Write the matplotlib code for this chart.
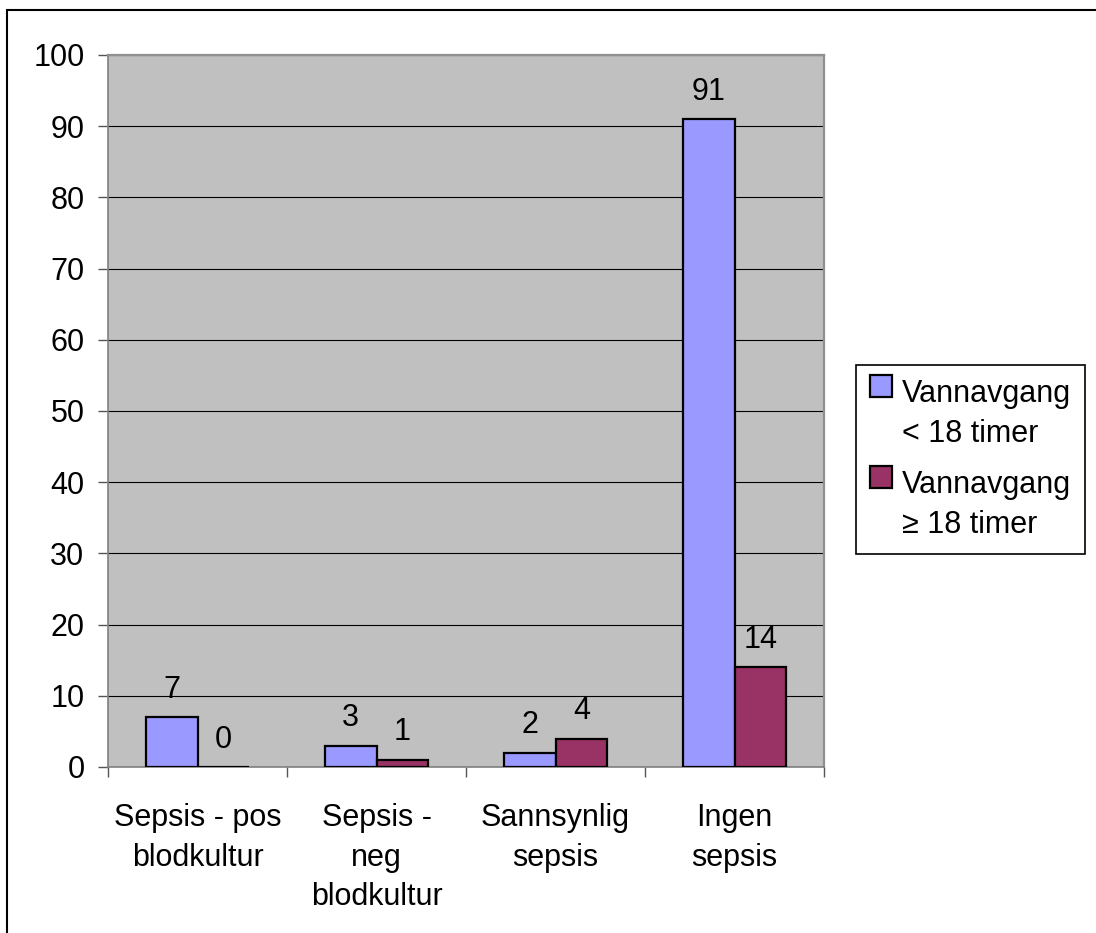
import numpy as np
import matplotlib.pyplot as plt
from matplotlib.patches import Rectangle
from matplotlib.legend_handler import HandlerPatch

plt.rcParams['font.family'] = ['Liberation Sans', 'DejaVu Sans']

categories = ["Sepsis - pos\nblodkultur", "Sepsis -\nneg\nblodkultur",
              "Sannsynlig\nsepsis", "Ingen\nsepsis"]
under_18 = [7, 3, 2, 91]
over_18 = [0, 1, 4, 14]
series_labels = ["Vannavgang\n< 18 timer", "Vannavgang\n\u2265 18 timer"]
yticks = np.arange(0, 101, 10)
fs = 22

fig = plt.figure(figsize=(10.96, 9.33), dpi=100)
ax = fig.add_axes([108 / 1096, 1 - 767 / 933, (824 - 108) / 1096, (767 - 55) / 933])
ax.set_facecolor("#C0C0C0")

x = np.arange(len(categories))
w = 0.29
b1 = ax.bar(x - w / 2, under_18, w, color="#9999FF", edgecolor="black", linewidth=1.6,
            zorder=3)
b2 = ax.bar(x + w / 2, over_18, w, color="#993366", edgecolor="black", linewidth=1.6,
            zorder=3)
ax.bar_label(b1, padding=9, fontsize=fs)
ax.bar_label(b2, padding=9, fontsize=fs)

ax.set_xlim(-0.5, len(categories) - 0.5)
ax.set_ylim(0, 100)
ax.set_yticks(yticks)
ax.tick_params(axis="y", labelsize=fs, length=7, width=1, color="#555555", pad=10)
ax.yaxis.grid(True, color="black", linewidth=0.8)
ax.set_axisbelow(True)

# category labels at the centres, tick marks at the boundaries
ax.set_xticks(np.arange(len(categories) + 1) - 0.5)
ax.set_xticklabels([])
ax.set_xticks(x, minor=True)
ax.set_xticklabels(categories, minor=True, fontsize=fs, linespacing=1.42, va="top")
ax.tick_params(axis="x", which="major", length=7, width=1, color="#555555")
ax.tick_params(axis="x", which="minor", length=0, pad=26)

for side in ["left", "bottom"]:
    ax.spines[side].set_color("#808080")
    ax.spines[side].set_linewidth(1.2)
for side in ["top", "right"]:
    ax.spines[side].set_color("#909090")
    ax.spines[side].set_linewidth(1.6)


def top_square(legend, orig_handle, xdescent, ydescent, width, height, fontsize):
    # put the swatch next to the first line of the label, as Excel does
    return Rectangle((-xdescent, -ydescent + fontsize * 0.95), width, height)


h1, h2 = b1.patches[0], b2.patches[0]
leg = fig.legend([h1, h2], series_labels, loc="upper left",
                 bbox_to_anchor=(856 / 1096, 1 - 365 / 933), fontsize=fs,
                 frameon=True, fancybox=False, edgecolor="black", framealpha=1,
                 handlelength=0.72, handleheight=0.72, handletextpad=0.3,
                 borderpad=0.47, labelspacing=0.7, borderaxespad=0,
                 handler_map={h1: HandlerPatch(patch_func=top_square),
                              h2: HandlerPatch(patch_func=top_square)})
for t in leg.get_texts():
    t.set_linespacing(1.42)
leg.get_frame().set_linewidth(1.2)

fig.add_artist(Rectangle((7 / 1096, -0.1), 1.2, 1.1 - 10 / 933,
                         transform=fig.transFigure, fill=False,
                         edgecolor="black", linewidth=1.5))

fig.savefig("out.png", dpi=100)
